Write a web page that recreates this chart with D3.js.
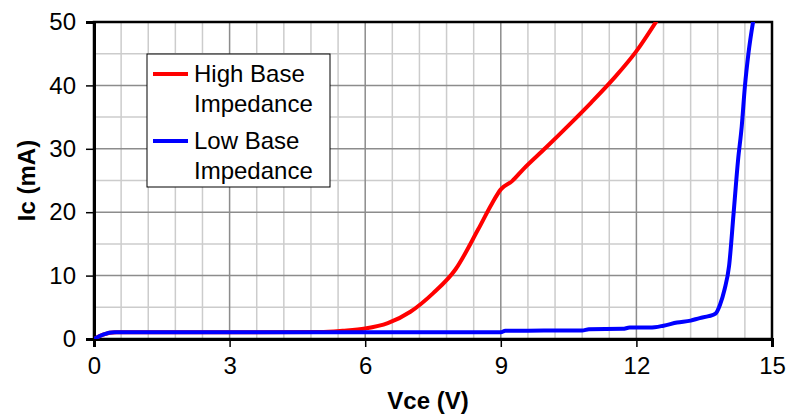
<!DOCTYPE html>
<html>
<head>
<meta charset="utf-8">
<script src="https://cdn.jsdelivr.net/npm/d3@7"></script>
<style>
  html, body { margin: 0; padding: 0; background: #fff; }
  svg text { font-family: "Liberation Sans", Arial, sans-serif; fill: #000; }
</style>
</head>
<body>
<svg id="chart" width="788" height="414"></svg>
<script>
// Collector current vs collector-emitter voltage
const xTicks = [0, 3, 6, 9, 12, 15];
const yTicks = [0, 10, 20, 30, 40, 50];
const seriesNames = ["High Base Impedance", "Low Base Impedance"];
const seriesColors = ["#ff0000", "#0000ff"];

// [Vce (V), Ic (mA)]
const highBase = [
  [0, 0], [0.2, 0.7], [0.5, 1.05], [5.0, 1.1], [5.5, 1.3], [6.0, 1.65],
  [6.5, 2.5], [7.0, 4.3], [7.5, 7.2], [8.0, 11.0], [8.5, 17.3], [8.8, 21.3],
  [9.0, 23.6], [9.25, 24.9], [9.5, 26.8], [10.0, 30.2], [10.5, 33.7],
  [11.0, 37.3], [11.5, 41.1], [12.0, 45.4], [12.45, 50.2]
];
const lowBase = [
  [0, 0], [0.2, 0.7], [0.45, 1.05], [9.0, 1.05], [9.1, 1.3], [10.8, 1.35],
  [10.95, 1.55], [11.7, 1.6], [11.85, 1.8], [12.3, 1.8], [12.6, 2.1],
  [12.9, 2.6], [13.2, 2.9], [13.4, 3.3], [13.6, 3.6], [13.75, 4.0],
  [13.85, 5.4], [13.95, 7.8], [14.05, 11.5], [14.15, 19.8], [14.25, 28.3],
  [14.33, 33.5], [14.4, 39.8], [14.48, 45.1], [14.59, 50.4]
];

const svg = d3.select("#chart");
const m = { left: 94, right: 16, top: 22, bottom: 75 };
const W = 788, H = 414;
const pw = W - m.left - m.right, ph = H - m.top - m.bottom;

const x = d3.scaleLinear().domain([0, 15]).range([0, pw]);
const y = d3.scaleLinear().domain([0, 50]).range([ph, 0]);

const g = svg.append("g").attr("transform", `translate(${m.left},${m.top})`);

// minor grid
const xMinor = d3.range(0, 15.001, 0.6).filter(v => Math.abs(v / 3 - Math.round(v / 3)) > 1e-6);
const yMinor = d3.range(5, 50, 10);
g.append("g").selectAll("line").data(xMinor).join("line")
  .attr("x1", d => x(d)).attr("x2", d => x(d)).attr("y1", 0).attr("y2", ph)
  .attr("stroke", "#cccccc").attr("stroke-width", 1.5);
g.append("g").selectAll("line").data(yMinor).join("line")
  .attr("y1", d => y(d)).attr("y2", d => y(d)).attr("x1", 0).attr("x2", pw)
  .attr("stroke", "#cccccc").attr("stroke-width", 1.5);
// major grid
g.append("g").selectAll("line").data(xTicks.slice(1, -1)).join("line")
  .attr("x1", d => x(d)).attr("x2", d => x(d)).attr("y1", 0).attr("y2", ph)
  .attr("stroke", "#8c8c8c").attr("stroke-width", 1.5);
g.append("g").selectAll("line").data(yTicks.slice(1, -1)).join("line")
  .attr("y1", d => y(d)).attr("y2", d => y(d)).attr("x1", 0).attr("x2", pw)
  .attr("stroke", "#8c8c8c").attr("stroke-width", 1.5);

// plot frame
g.append("rect").attr("x", 0).attr("y", 0).attr("width", pw).attr("height", ph)
  .attr("fill", "none").attr("stroke", "#000").attr("stroke-width", 2.5);

// axes
const xAxis = g.append("g").attr("transform", `translate(0,${ph})`)
  .call(d3.axisBottom(x).tickValues(xTicks).tickSize(8).tickPadding(10).tickFormat(d3.format("d")));
const yAxis = g.append("g")
  .call(d3.axisLeft(y).tickValues(yTicks).tickSize(8).tickPadding(10).tickFormat(d3.format("d")));
[xAxis, yAxis].forEach(a => {
  a.select(".domain").attr("stroke", "#000").attr("stroke-width", 3);
  a.selectAll(".tick line").attr("stroke", "#000").attr("stroke-width", 1.5);
  a.selectAll(".tick text").attr("font-size", 24)
    .attr("font-family", "'Liberation Sans', Arial, sans-serif").attr("fill", "#000");
});
xAxis.selectAll(".tick text").attr("dy", "0.71em");

// data lines
const clip = svg.append("defs").append("clipPath").attr("id", "plotclip")
  .append("rect").attr("x", 0).attr("y", 0).attr("width", pw).attr("height", ph);
const line = d3.line().x(d => x(d[0])).y(d => y(d[1])).curve(d3.curveMonotoneX);
const lines = g.append("g").attr("clip-path", "url(#plotclip)");
[highBase, lowBase].forEach((s, i) => {
  lines.append("path").datum(s).attr("d", line)
    .attr("fill", "none").attr("stroke", seriesColors[i]).attr("stroke-width", 4)
    .attr("stroke-linejoin", "round").attr("stroke-linecap", "round");
});

// legend
const lg = svg.append("g");
lg.append("rect").attr("x", 147).attr("y", 54).attr("width", 183).attr("height", 133)
  .attr("fill", "#fff").attr("stroke", "#000").attr("stroke-width", 1);
const legendRows = [
  { lineY: 74, textY: [82, 112] },
  { lineY: 141, textY: [149, 179] }
];
seriesNames.forEach((name, i) => {
  const r = legendRows[i];
  lg.append("line").attr("x1", 153).attr("x2", 188).attr("y1", r.lineY).attr("y2", r.lineY)
    .attr("stroke", seriesColors[i]).attr("stroke-width", 4);
  const words = name.split(" ");
  const parts = [words.slice(0, 2).join(" "), words.slice(2).join(" ")];
  parts.forEach((p, k) => {
    lg.append("text").attr("x", 194).attr("y", r.textY[k]).attr("font-size", 24).text(p);
  });
});

// axis titles
svg.append("text").attr("x", m.left + pw / 2 - 5).attr("y", 409)
  .attr("text-anchor", "middle").attr("font-size", 24).attr("font-weight", "bold")
  .text("Vce (V)");
svg.append("text").attr("transform", `translate(35,${m.top + ph / 2}) rotate(-90)`)
  .attr("text-anchor", "middle").attr("font-size", 24).attr("font-weight", "bold")
  .text("Ic (mA)");
</script>
</body>
</html>
